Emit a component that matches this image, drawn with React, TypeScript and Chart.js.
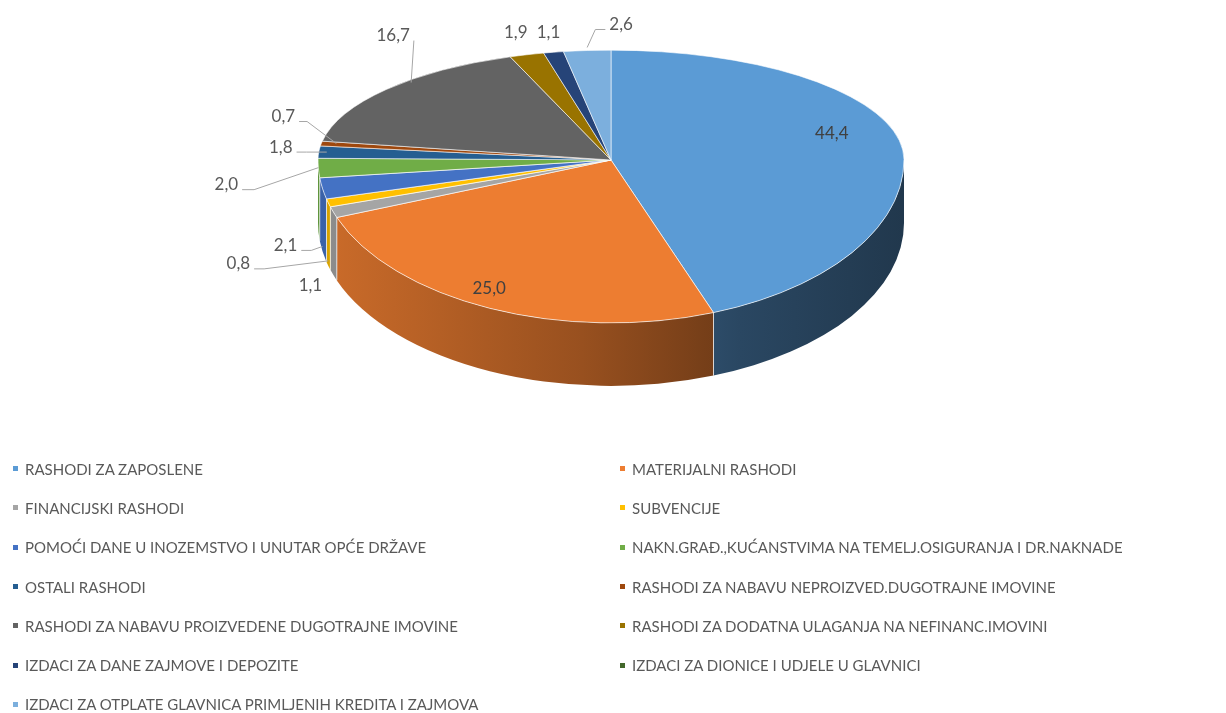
import React, { useEffect, useRef } from 'react';
import { Chart, registerables } from 'chart.js';

Chart.register(...registerables);

const categories = [
  'RASHODI ZA ZAPOSLENE',
  'MATERIJALNI RASHODI',
  'FINANCIJSKI RASHODI',
  'SUBVENCIJE',
  'POMOĆI DANE U INOZEMSTVO I UNUTAR OPĆE DRŽAVE',
  'NAKN.GRAĐ.,KUĆANSTVIMA NA TEMELJ.OSIGURANJA I DR.NAKNADE',
  'OSTALI RASHODI',
  'RASHODI ZA NABAVU NEPROIZVED.DUGOTRAJNE IMOVINE',
  'RASHODI ZA NABAVU PROIZVEDENE DUGOTRAJNE IMOVINE',
  'RASHODI ZA DODATNA ULAGANJA NA NEFINANC.IMOVINI',
  'IZDACI ZA DANE ZAJMOVE I DEPOZITE',
  'IZDACI ZA DIONICE I UDJELE U GLAVNICI',
  'IZDACI ZA OTPLATE GLAVNICA PRIMLJENIH KREDITA I ZAJMOVA',
];

const values = [44.4, 25.0, 1.1, 0.8, 2.1, 2.0, 1.8, 0.7, 16.7, 1.9, 1.1, 0, 2.6];

const COLORS = [
  '#5B9BD5', '#ED7D31', '#A5A5A5', '#FFC000', '#4472C4', '#70AD47',
  '#255E91', '#9E480E', '#636363', '#997300', '#264478', '#43682B', '#7CAFDD',
];

// 3D look
const TILT_TOP = 0.375;
const TILT_BOTTOM = 0.556;
const DEPTH = 63;
const WALL_SHADE: [number, number][] = [[0, 0.86], [0.45, 0.64], [0.72, 0.46], [1, 0.36]];

// label placement relative to the slice's projected anchor (r = fraction of radius, drop = fraction of depth)
const LABEL_LAYOUT: any[] = [
  { r: 0.7, dx: 19, dy: -13, inside: true },
  { r: 0.7, dx: -37, dy: 25, inside: true },
  { r: 1, dx: -23, dy: 73 },
  { r: 1, drop: 0.92, dx: -90, dy: 3, leader: true },
  { r: 1, drop: 0.92, dx: -37, dy: -1, leader: true },
  { r: 1, dx: -92, dy: 17, leader: true, elbow: 12 },
  { r: 1, dx: -38, dy: -5, leader: true, adx: 8 },
  { r: 1, dx: -38, dy: -27, leader: true, adx: 15, elbow: 8 },
  { r: 1, dx: 7, dy: -54, leader: true, adx: 25, ady: -7, elbow: 0 },
  { r: 1, dx: -11, dy: -22 },
  { r: 1, dx: -5, dy: -20 },
  null,
  { r: 1, dx: 34, dy: -26, leader: true, ady: -3, elbow: 10 },
];

const fmt = (v: number) => v.toFixed(1).replace('.', ',');

function shade(hex: string, f: number) {
  const n = parseInt(hex.slice(1), 16);
  const r = Math.round(((n >> 16) & 255) * f);
  const g = Math.round(((n >> 8) & 255) * f);
  const b = Math.round((n & 255) * f);
  return `rgb(${r},${g},${b})`;
}

const pie3d = {
  id: 'pie3d',
  beforeDatasetsDraw(chart: any) {
    const meta = chart.getDatasetMeta(0);
    const arcs = meta.data as any[];
    if (!arcs.length) return;
    const ctx: CanvasRenderingContext2D = chart.ctx;
    const cx = arcs[0].x;
    const cy = arcs[0].y;
    const R = arcs[0].outerRadius;
    const ry = R * TILT_BOTTOM;

    // side walls (front half only)
    arcs.forEach((arc, i) => {
      const s = Math.max(arc.startAngle, 0);
      const e = Math.min(arc.endAngle, Math.PI);
      if (e - s <= 0) return;
      const col = COLORS[i];
      const g = ctx.createLinearGradient(cx - R, 0, cx + R, 0);
      WALL_SHADE.forEach(([t, f]) => g.addColorStop(t, shade(col, f)));
      ctx.beginPath();
      ctx.ellipse(cx, cy, R, ry, 0, s, e, false);
      ctx.ellipse(cx, cy + DEPTH, R, ry, 0, e, s, true);
      ctx.closePath();
      ctx.fillStyle = g;
      ctx.fill();
    });
    // seams between wall parts
    ctx.save();
    ctx.strokeStyle = 'rgba(255,255,255,0.7)';
    ctx.lineWidth = 1;
    arcs.forEach((arc, i) => {
      if (values[i] === 0) return;
      const a = arc.startAngle;
      if (a > 0.05 && a < Math.PI - 0.05) {
        const x = cx + R * Math.cos(a);
        const y = cy + ry * Math.sin(a);
        ctx.beginPath();
        ctx.moveTo(x, y);
        ctx.lineTo(x, y + DEPTH);
        ctx.stroke();
      }
    });
    ctx.restore();

    // top surface: two half-ellipses for a perspective feel
    const W = chart.width;
    const H = chart.height;
    const halves = [
      { k: TILT_TOP, y0: 0, h: cy + 0.5 },
      { k: TILT_BOTTOM, y0: cy, h: H - cy },
    ];
    halves.forEach((hf) => {
      ctx.save();
      ctx.beginPath();
      ctx.rect(0, hf.y0, W, hf.h);
      ctx.clip();
      ctx.translate(cx, cy);
      ctx.scale(1, hf.k);
      ctx.translate(-cx, -cy);
      arcs.forEach((arc) => arc.draw(ctx));
      ctx.restore();
    });
    return false;
  },
  afterDraw(chart: any) {
    const meta = chart.getDatasetMeta(0);
    const arcs = meta.data as any[];
    if (!arcs.length) return;
    const ctx: CanvasRenderingContext2D = chart.ctx;
    const cx = arcs[0].x;
    const cy = arcs[0].y;
    const R = arcs[0].outerRadius;
    ctx.save();
    ctx.font = '17px Lato';
    ctx.textAlign = 'center';
    ctx.textBaseline = 'middle';
    arcs.forEach((arc, i) => {
      const L = LABEL_LAYOUT[i];
      if (!L || values[i] === 0) return;
      const mid = (arc.startAngle + arc.endAngle) / 2;
      const k = Math.sin(mid) < 0 ? TILT_TOP : TILT_BOTTOM;
      const bx = cx + L.r * R * Math.cos(mid);
      const by = cy + L.r * R * Math.sin(mid) * k + (L.drop || 0) * DEPTH;
      const lx = bx + L.dx;
      const ly = by + L.dy;
      const text = fmt(values[i]);
      if (L.leader) {
        const ax = bx + (L.adx || 0);
        const ay = by + (L.ady || 0);
        const w = ctx.measureText(text).width;
        const right = ax > lx;
        const sx = right ? lx + w / 2 + 4 : lx - w / 2 - 4;
        const sy = ly + 5;
        const el = L.elbow === undefined ? 10 : L.elbow;
        const ex = sx + (right ? 1 : -1) * el;
        ctx.beginPath();
        ctx.moveTo(sx, sy);
        ctx.lineTo(ex, sy);
        ctx.lineTo(ax, ay);
        ctx.strokeStyle = '#A6A6A6';
        ctx.lineWidth = 1;
        ctx.stroke();
      }
      ctx.fillStyle = L.inside ? '#404040' : '#595959';
      ctx.fillText(text, lx, ly);
    });
    ctx.restore();
  },
};

export default function App() {
  const ref = useRef<HTMLCanvasElement>(null);
  useEffect(() => {
    if (!ref.current) return;
    const chart = new Chart(ref.current, {
      type: 'pie',
      data: {
        labels: categories,
        datasets: [
          {
            data: values,
            backgroundColor: COLORS,
            borderColor: 'rgba(255,255,255,0.85)',
            borderWidth: 1,
            clip: false as any,
          } as any,
        ],
      },
      options: {
        responsive: false,
        animation: false,
        events: [],
        radius: 293,
        layout: { padding: { left: 0, right: 4, top: 0, bottom: 393 } },
        plugins: {
          legend: { display: false },
          tooltip: { enabled: false },
        },
      } as any,
      plugins: [pie3d as any],
    });
    return () => chart.destroy();
  }, []);

  return (
    <div style={{ position: 'fixed', left: 0, top: 0, width: 1226, height: 713, background: '#fff' }}>
      <canvas ref={ref} width={1226} height={713} style={{ display: 'block', position: 'absolute', left: 0, top: 0 }} />
      <div
        style={{
          position: 'absolute',
          left: 13,
          top: 449,
          width: 1200,
          display: 'grid',
          gridTemplateColumns: '607px auto',
          gridAutoRows: '39.3px',
          fontFamily: 'Lato, sans-serif',
          fontSize: 15,
          color: '#595959',
        }}
      >
        {categories.map((c, i) => (
          <div key={c} style={{ display: 'flex', alignItems: 'center', whiteSpace: 'nowrap' }}>
            <span style={{ width: 5, height: 5, background: COLORS[i], marginRight: 7, flex: 'none' }} />
            {c}
          </div>
        ))}
      </div>
    </div>
  );
}
